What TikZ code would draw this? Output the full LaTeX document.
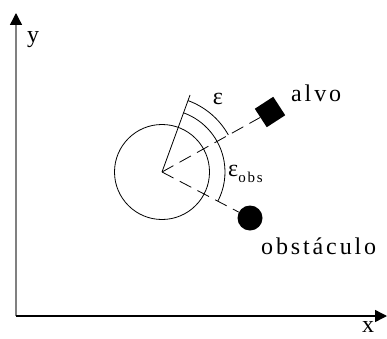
\documentclass[tikz,border=0pt]{standalone}
\usepackage{fontspec}
\setmainfont{Liberation Serif}
\newfontfamily\spacedfont[LetterSpace=12]{Liberation Serif}
\usetikzlibrary{arrows.meta}
\tikzset{
  axis line/.style={line width=1.4pt, -{Triangle[length=12pt,width=12pt,black]}},
  thin line/.style={line width=0.8pt},
  dash line/.style={line width=0.8pt, dash pattern=on 13pt off 7pt},
  label text/.style={font=\fontsize{24}{26}\spacedfont, inner sep=0pt}
}
\begin{document}
\begin{tikzpicture}[x=1pt,y=1pt]
    \useasboundingbox (0,0) rectangle (387,338);
    % Coordinate
    \coordinate (orig) at (16,22);
    \coordinate (ytop) at (16,325);
    \coordinate (xend) at (387,22);
    \coordinate (O) at (162,166);
    \coordinate (heading) at ([shift={(O)}]70:82);
    % Assi
    \draw [axis line, gray] (orig) -- (ytop); % asse y
    \draw [axis line, black] (orig) -- (xend); % asse x
    \node [label text] (ylab) at (33,298) {y};
    \node [label text] (xlab) at (368,11) {x};
    % Robot
    \draw [thin line] (O) circle (47.5);
    \draw [thin line] (O) -- (heading);
    % Alvo e obstaculo
    \node [fill=black, minimum size=22pt, inner sep=0pt, rotate=33] (alvo) at (270,226) {};
    \node [circle, fill=black, minimum size=25pt, inner sep=0pt] (obst) at (250,120) {};
    \draw [dash line] (O) -- (alvo);
    \draw [dash line] (O) -- (obst);
    % Angoli
    \draw [thin line] ([shift={(O)}]70:76) arc [start angle=70, end angle=29.2, radius=76];
    \draw [thin line] ([shift={(O)}]70:63) arc [start angle=70, end angle=-27.6, radius=63];
    \node [label text] (eps) at (218,239) {ε};
    \node [label text, anchor=west] (epsobs) at (228,164) {ε\raisebox{-0.5ex}{\fontsize{15}{15}\spacedfont obs}};
    % Scritte
    \node [label text, anchor=base west] (alvolab) at (291,237) {alvo};
    \node [label text, anchor=base west] (obstlab) at (261,84) {obstáculo};
\end{tikzpicture}
\end{document}
